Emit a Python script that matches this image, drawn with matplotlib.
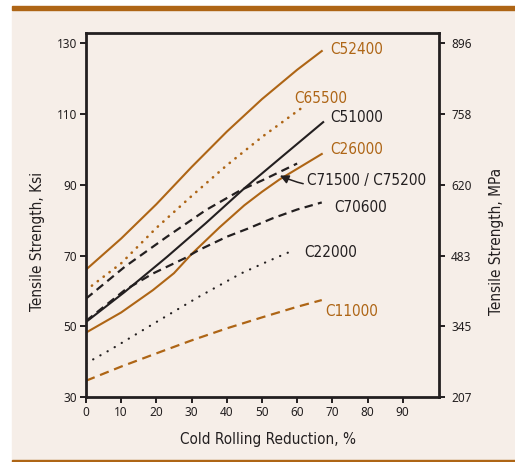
import matplotlib
matplotlib.use("Agg")
import matplotlib.pyplot as plt
from matplotlib import font_manager
from matplotlib.patches import Rectangle

# cold rolling reduction (%) vs tensile strength (ksi)
c52400_x = [0, 10, 20, 30, 40, 50, 60, 67]
c52400_y = [66.0, 74.8, 84.5, 95.0, 105.0, 114.2, 122.5, 127.8]

c65500_x = [0, 10, 20, 30, 40, 50, 61]
c65500_y = [60.2, 67.8, 77.8, 86.8, 95.5, 103.5, 111.5]

c51000_x = [0, 11, 23, 34, 45, 56, 67.4]
c51000_y = [51.2, 59.7, 69.6, 79.1, 89.0, 98.2, 107.7]

c26000_x = [0, 10, 19, 25, 30, 38, 45, 50, 55, 60, 67]
c26000_y = [48.2, 53.9, 60.2, 65.0, 70.4, 78.0, 84.2, 88.0, 91.5, 94.5, 98.7]

c71500_x = [0, 11, 23, 34, 44, 50, 60]
c71500_y = [57.8, 66.8, 75.3, 82.8, 88.5, 91.2, 96.0]

c70600_x = [0, 11, 19, 28, 32, 40, 46, 53, 60, 67]
c70600_y = [51.5, 60.2, 64.9, 69.2, 71.5, 75.3, 77.6, 80.5, 83.0, 85.0]

c22000_x = [0, 7, 19, 32, 44, 52, 59]
c22000_y = [39.5, 43.4, 50.6, 58.3, 64.9, 68.5, 71.5]

c11000_x = [0, 10, 21, 30, 40, 50, 60, 67]
c11000_y = [34.6, 38.6, 42.7, 46.0, 49.4, 52.5, 55.5, 57.4]

ksi_ticks = [30, 50, 70, 90, 110, 130]
mpa_labels = ["207", "345", "483", "620", "758", "896"]
x_ticks = [0, 10, 20, 30, 40, 50, 60, 70, 80, 90]

orange = "#AE6515"
dark = "#231F20"
bg = "#F6EEE8"

# prefer a narrow face for the labels if one is installed
names = {f.name for f in font_manager.fontManager.ttflist}
cond = [f for f in font_manager.fontManager.ttflist
        if f.name == "DejaVu Sans" and "ondensed" in str(f.stretch)]
if "Liberation Sans Narrow" in names:
    lfont = dict(family=["Liberation Sans Narrow", "DejaVu Sans"])
    lsize = 12
elif cond:
    lfont = dict(family=["DejaVu Sans"], stretch="condensed")
    lsize = 11
else:
    lfont = dict(family=["Liberation Sans", "DejaVu Sans"])
    lsize = 10.5

W, H = 515, 462
fig = plt.figure(figsize=(W / 100, H / 100), dpi=100, facecolor="white")

# page background and the orange rules
fig.patches.append(Rectangle((12 / W, 1.5 / H), 1, (H - 11.5) / H,
                             transform=fig.transFigure, color=bg, zorder=-10))
fig.patches.append(Rectangle((12 / W, 1 - 10 / H), 1, 4 / H,
                             transform=fig.transFigure, color=orange, zorder=-9))
fig.patches.append(Rectangle((12 / W, 0.5 / H), 1, 1.6 / H,
                             transform=fig.transFigure, color=orange, zorder=-9))

ax = fig.add_axes([86 / W, 1 - 397 / H, (439.3 - 86) / W, (397 - 33) / H])
ax.set_facecolor(bg)

ax.plot(c52400_x, c52400_y, color=orange, lw=1.5)
ax.plot(c65500_x, c65500_y, color=orange, lw=1.9, linestyle=(0, (0.1, 2.7)),
        dash_capstyle="round")
ax.plot(c51000_x, c51000_y, color=dark, lw=1.5)
ax.plot(c26000_x, c26000_y, color=orange, lw=1.5)
ax.plot(c71500_x, c71500_y, color=dark, lw=1.6, linestyle=(0, (3.8, 2.4)))
ax.plot(c70600_x, c70600_y, color=dark, lw=1.6, linestyle=(0, (3.8, 2.4)))
ax.plot(c22000_x, c22000_y, color=dark, lw=1.6, linestyle=(0, (0.1, 3.6)),
        dash_capstyle="round")
ax.plot(c11000_x, c11000_y, color=orange, lw=1.6, linestyle=(0, (4.2, 2.6)))

lab = dict(fontsize=lsize, va="center", ha="left", **lfont)
ax.text(69.3, 128.1, "C52400", color=orange, **lab)
ax.text(59.3, 114.4, "C65500", color=orange, **lab)
ax.text(69.3, 109.0, "C51000", color=dark, **lab)
ax.text(69.3, 100.1, "C26000", color=orange, **lab)
ax.text(70.5, 83.6, "C70600", color=dark, **lab)
ax.text(61.9, 70.9, "C22000", color=dark, **lab)
ax.text(67.9, 54.1, "C11000", color=orange, **lab)
ax.annotate("C71500 / C75200", xy=(55.1, 92.6), xytext=(62.9, 91.3),
            color=dark, **lab,
            arrowprops=dict(arrowstyle="-|>", color=dark, lw=1.1,
                            mutation_scale=13, shrinkA=1, shrinkB=0,
                            connectionstyle="arc3,rad=-0.2"))

ax.set_xlim(0, 100.4)
ax.set_ylim(30, 132.9)
ax.set_xticks(x_ticks)
ax.set_yticks(ksi_ticks)
for s in ax.spines.values():
    s.set_linewidth(2.0)
    s.set_color(dark)
ax.tick_params(direction="out", length=4.5, width=1.4, color=dark,
               labelsize=8.5, labelcolor=dark, pad=2)
for t in ax.get_xticklabels() + ax.get_yticklabels():
    t.set_family("Noto Sans")

ax2 = ax.twinx()
ax2.set_ylim(ax.get_ylim())
ax2.set_yticks(ksi_ticks)
ax2.set_yticklabels(mpa_labels)
ax2.tick_params(direction="out", length=4.5, width=1.4, color=dark,
                labelsize=8.5, labelcolor=dark, pad=4)
for t in ax2.get_yticklabels():
    t.set_family("Noto Sans")
for s in ax2.spines.values():
    s.set_visible(False)

axfont = dict(fontsize=lsize, color=dark, **lfont)
ax.set_xlabel("Cold Rolling Reduction, %", va="center", **axfont)
ax.set_ylabel("Tensile Strength, Ksi", va="center", **axfont)
ax2.set_ylabel("Tensile Strength, MPa", va="center", **axfont)
ax.xaxis.set_label_coords(0.515, -0.118)
ax.yaxis.set_label_coords(-0.136, 0.426)
ax2.yaxis.set_label_coords(1.163, 0.426)

fig.savefig("out.png", dpi=100, facecolor="white")
